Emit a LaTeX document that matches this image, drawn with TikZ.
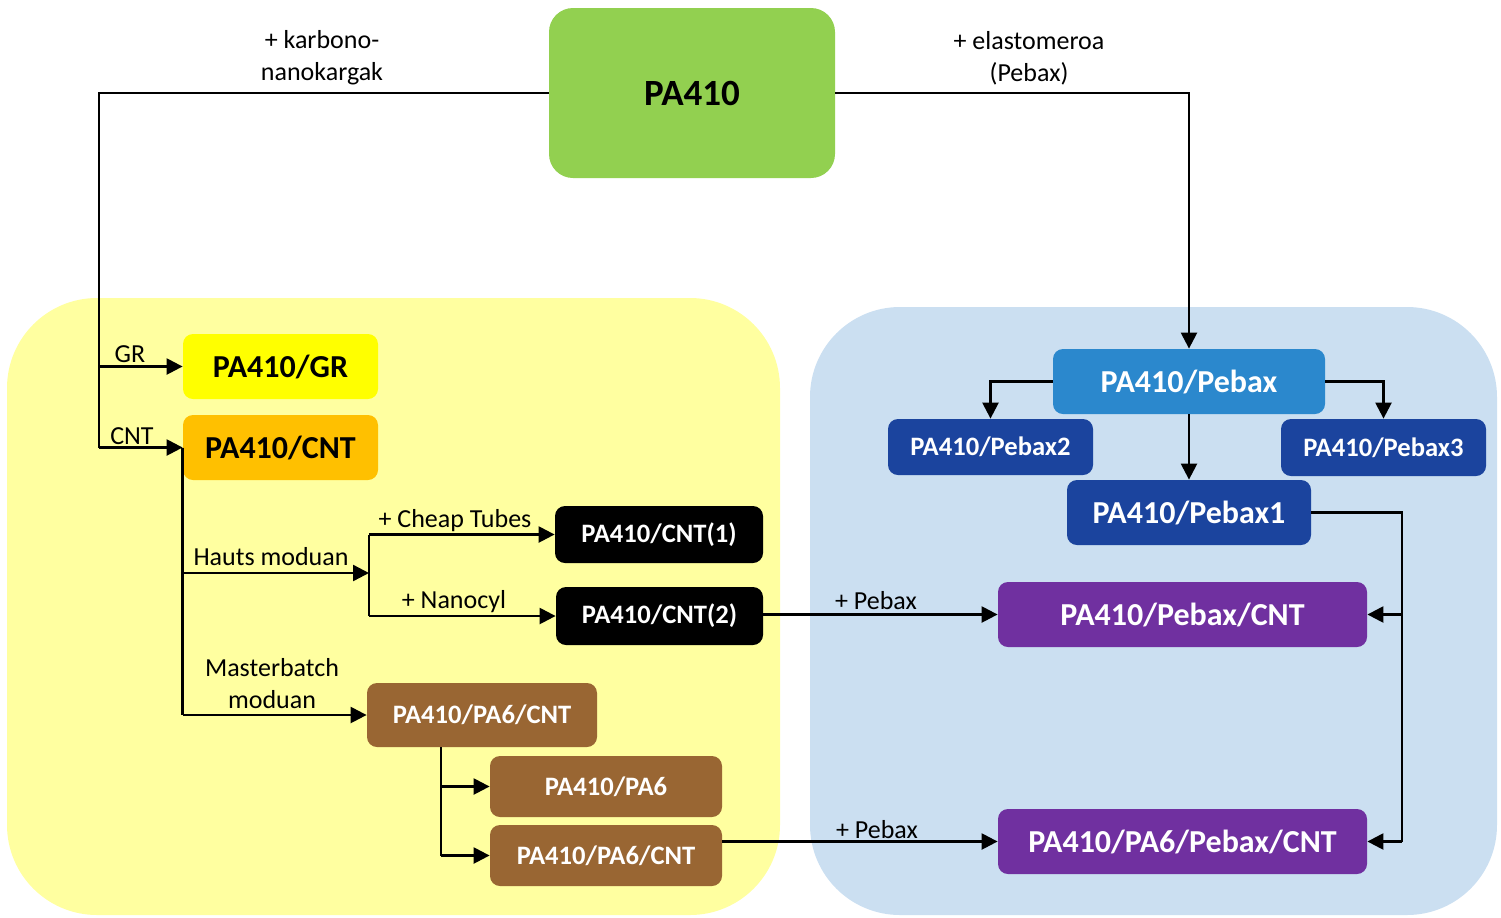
\documentclass[tikz,border=0pt]{standalone}
\usepackage{fontspec}
\setmainfont{Carlito}
\usetikzlibrary{arrows.meta,calc}
\definecolor{cgreen}{HTML}{92D050}
\definecolor{cyellow}{HTML}{FFFF00}
\definecolor{corange}{HTML}{FFC000}
\definecolor{cbrown}{HTML}{996633}
\definecolor{cpebax}{HTML}{2B88CD}
\definecolor{cdark}{HTML}{1B449E}
\definecolor{cpurple}{HTML}{7030A0}
\definecolor{bgyellow}{HTML}{FFFFA0}
\definecolor{bgblue}{HTML}{CBDFF1}
\tikzset{
  box/.style={rectangle, rounded corners=5pt, inner sep=0pt, font=\bfseries, align=center},
  bigtxt/.style={font=\fontsize{16}{19}\selectfont\bfseries},
  smalltxt/.style={font=\fontsize{13.3}{16}\selectfont\bfseries},
  lbl/.style={font=\fontsize{13}{16}\selectfont, align=center, inner sep=0pt},
  conn/.style={line width=1.2pt},
  arr/.style={line width=1.2pt, -{Triangle[length=8pt,width=8pt]}},
}
\begin{document}
\begin{tikzpicture}[x=0.5pt,y=-0.5pt]
\useasboundingbox (0,0) rectangle (1501,917);
% backgrounds
\fill[bgyellow, rounded corners=45pt] (7,298) rectangle (780,915);
\fill[bgblue, rounded corners=45pt] (810,307) rectangle (1497,915);
% nodes
\node[box, rounded corners=12pt, fill=cgreen, minimum width=143pt, minimum height=85pt, font=\fontsize{18.5}{22}\selectfont\bfseries] (top) at (692,93) {PA410};
\node[box, bigtxt, fill=cyellow, minimum width=97.5pt, minimum height=32.5pt] (gr) at (280.5,366.5) {PA410/GR};
\node[box, bigtxt, fill=corange, minimum width=97.5pt, minimum height=32.5pt] (cnt) at (280.5,447.5) {PA410/CNT};
\node[box, smalltxt, fill=black, text=white, minimum width=104pt, minimum height=28.5pt] (cnt1) at (659,534.5) {PA410/CNT(1)};
\node[box, smalltxt, fill=black, text=white, minimum width=103.5pt, minimum height=29pt] (cnt2) at (659.5,616) {PA410/CNT(2)};
\node[box, smalltxt, fill=cbrown, text=white, minimum width=115pt, minimum height=32pt] (mb) at (482,715) {PA410/PA6/CNT};
\node[box, smalltxt, fill=cbrown, text=white, minimum width=116pt, minimum height=30.5pt] (pa6) at (606,786.5) {PA410/PA6};
\node[box, smalltxt, fill=cbrown, text=white, minimum width=116pt, minimum height=30.5pt] (pa6cnt) at (606,855.5) {PA410/PA6/CNT};
\node[box, bigtxt, fill=cpebax, text=white, minimum width=136pt, minimum height=32.5pt] (pebax) at (1189,381.5) {PA410/Pebax};
\node[box, smalltxt, fill=cdark, text=white, minimum width=102.5pt, minimum height=28pt] (pebax2) at (990.5,447) {PA410/Pebax2};
\node[box, smalltxt, fill=cdark, text=white, minimum width=102.5pt, minimum height=28.5pt] (pebax3) at (1383.5,447.5) {PA410/Pebax3};
\node[box, bigtxt, fill=cdark, text=white, minimum width=122pt, minimum height=32.5pt] (pebax1) at (1189,512.5) {PA410/Pebax1};
\node[box, bigtxt, fill=cpurple, text=white, minimum width=184.5pt, minimum height=32.5pt] (pcnt) at (1182.5,614.5) {PA410/Pebax/CNT};
\node[box, bigtxt, fill=cpurple, text=white, minimum width=184.5pt, minimum height=32.5pt] (ppcnt) at (1182.5,841.5) {PA410/PA6/Pebax/CNT};
% helper coordinates
\coordinate (lx) at (99,0);
\coordinate (hm) at (369,573);
\coordinate (bx) at (441,0);
\coordinate (rx) at (1402,0);
% connectors
\draw[conn] (top.west) -- (lx |- top.west) -- (lx |- cnt.west);
\draw[arr] (lx |- cnt.west) -- (cnt.west);
\draw[arr] (lx |- gr.west) -- (gr.west);
\draw[arr] (top.east) -| (pebax.north);
\draw[conn] (cnt.west) -- (cnt.west |- mb.west);
\draw[arr] (cnt.west |- mb.west) -- (mb.west);
\draw[arr] (cnt.west |- hm) -- (hm);
\draw[conn] (hm |- cnt1.west) -- (hm |- cnt2.west);
\draw[arr] (hm |- cnt1.west) -- (cnt1.west);
\draw[arr] (hm |- cnt2.west) -- (cnt2.west);
\draw[conn] (bx |- mb.south) -- (bx |- pa6cnt.west);
\draw[arr] (bx |- pa6.west) -- (pa6.west);
\draw[arr] (bx |- pa6cnt.west) -- (pa6cnt.west);
\draw[arr] (cnt2.east |- pcnt.west) -- (pcnt.west);
\draw[arr] (pa6cnt.east |- ppcnt.west) -- (ppcnt.west);
\draw[arr] (pebax.west) -| (pebax2.north);
\draw[arr] (pebax.east) -| (pebax3.north);
\draw[arr] (pebax.south) -- (pebax1.north);
\draw[conn] (pebax1.east) -- (rx |- pebax1.east) -- (rx |- ppcnt.east);
\draw[arr] (rx |- pcnt.east) -- (pcnt.east);
\draw[arr] (rx |- ppcnt.east) -- (ppcnt.east);
% labels
\node[lbl] (l1) at (322,58) {+ karbono-\\nanokargak};
\node[lbl] (l2) at (1029,58) {+ elastomeroa\\(Pebax)};
\node[lbl] (l3) at (130,354) {GR};
\node[lbl] (l4) at (132,436) {CNT};
\node[lbl] (l5) at (271,557) {Hauts moduan};
\node[lbl] (l6) at (455,521) {+ Cheap Tubes};
\node[lbl] (l7) at (454,602) {+ Nanocyl};
\node[lbl] (l8) at (272,684) {Masterbatch\\moduan};
\node[lbl] (l9) at (876,601) {+ Pebax};
\node[lbl] (l10) at (877,830) {+ Pebax};
\end{tikzpicture}
\end{document}
